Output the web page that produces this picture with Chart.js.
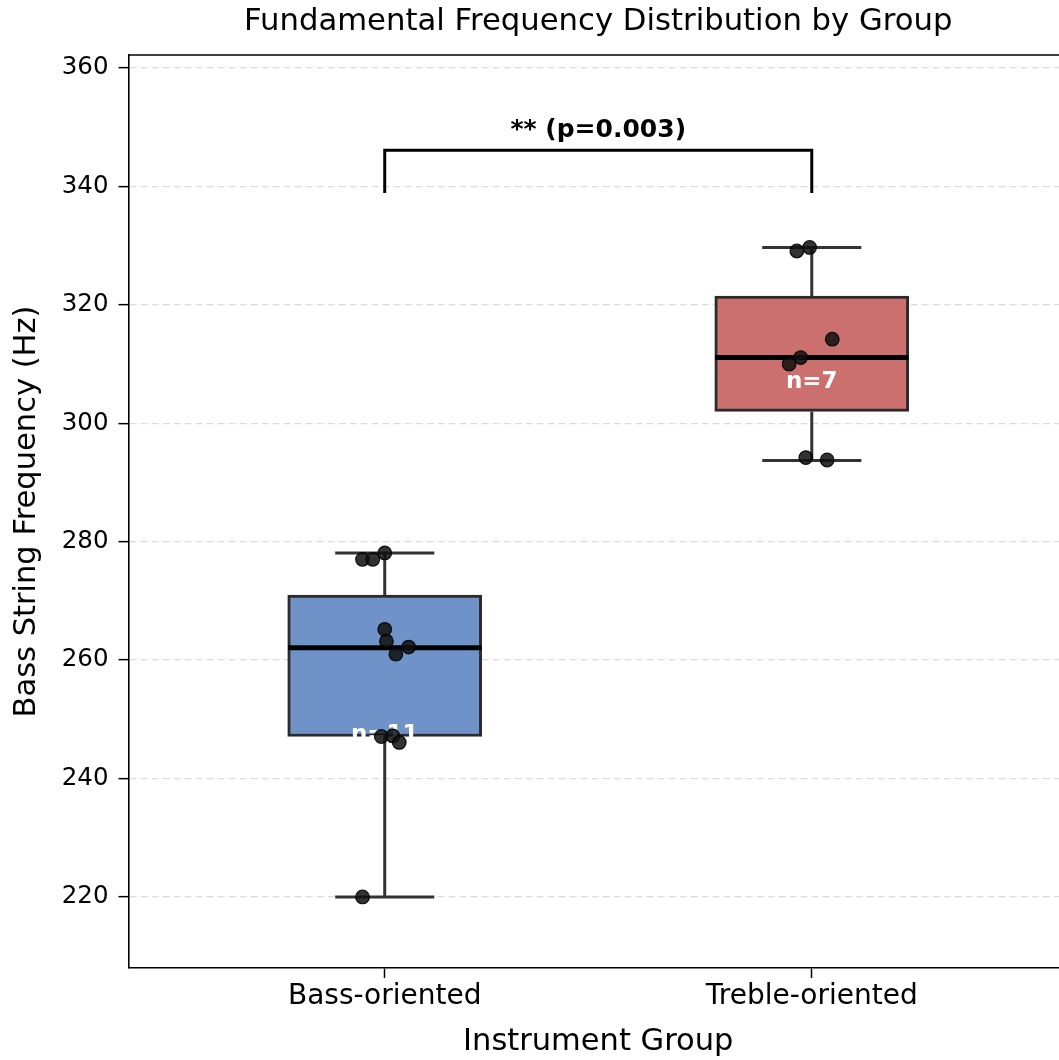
<!DOCTYPE html>
<html><head><meta charset="utf-8">
<script src="https://cdn.jsdelivr.net/npm/chart.js@4"></script>
<style>html,body{margin:0;padding:0;overflow:hidden;background:#fff}</style>
</head><body>
<canvas id="c" width="1076" height="1060" style="display:block"></canvas>
<script>
// ---- data ----
const categories = ['Bass-oriented', 'Treble-oriented'];
const bassValues  = [278.1, 277.0, 277.0, 265.2, 263.2, 262.2, 261.0, 247.1, 247.2, 246.1, 220.0];
const bassJitter  = [0.000, -0.052, -0.028, 0.000, 0.004, 0.056, 0.026, -0.008, 0.019, 0.034, -0.052];
const trebleValues = [329.7, 329.1, 314.2, 311.1, 310.0, 294.2, 293.8];
const trebleJitter = [-0.005, -0.035, 0.048, -0.026, -0.053, -0.014, 0.036];
const boxQ1     = [247.1, 302.0];
const boxMedian = [262.1, 311.1];
const boxQ3     = [271.0, 321.5];
const whiskerLow  = [220.0, 293.7];
const whiskerHigh = [278.1, 329.7];
const groupCounts = [11, 7];
const countLabelY = [247.3, 307.0];
const yTicks = [220, 240, 260, 280, 300, 320, 340, 360];
const sigBracket = [338.9, 346.1];
const sigLabel = '** (p=0.003)';
const sigLabelY = 348.3;

// ---- styles ----
const FONT = "'DejaVu Sans', 'Liberation Sans', sans-serif";
const boxColors = ['rgba(111,146,201,1)', 'rgba(204,112,111,1)'];
const edge = '#2b2b2b';
const BOX_HALF = 0.2265, CAP_HALF = 0.116;

const allValues = [bassValues, trebleValues];
const allJitter = [bassJitter, trebleJitter];

const datasets = [];
// points (on top)
const pts = [];
allValues.forEach((vals, g) => vals.forEach((v, i) => pts.push({x: g + allJitter[g][i], y: v})));
datasets.push({type: 'scatter', data: pts, order: 0, pointRadius: 6.8, pointHoverRadius: 6.8,
  backgroundColor: 'rgba(15,15,15,0.85)', borderColor: 'rgba(0,0,0,0.9)', borderWidth: 1.2});
// medians
categories.forEach((c, g) => {
  datasets.push({type: 'scatter', showLine: true, order: 1, pointRadius: 0, borderColor: '#000', borderWidth: 5,
    data: [{x: g - BOX_HALF, y: boxMedian[g]}, {x: g + BOX_HALF, y: boxMedian[g]}]});
});
// whiskers + caps
categories.forEach((c, g) => {
  const seg = (pts2) => datasets.push({type: 'scatter', showLine: true, order: 2, pointRadius: 0,
    borderColor: '#333', borderWidth: 3, borderCapStyle: 'butt', data: pts2});
  seg([{x: g, y: boxQ3[g]}, {x: g, y: whiskerHigh[g]}]);
  seg([{x: g, y: boxQ1[g]}, {x: g, y: whiskerLow[g]}]);
  seg([{x: g - CAP_HALF, y: whiskerHigh[g]}, {x: g + CAP_HALF, y: whiskerHigh[g]}]);
  seg([{x: g - CAP_HALF, y: whiskerLow[g]}, {x: g + CAP_HALF, y: whiskerLow[g]}]);
});
// significance bracket
datasets.push({type: 'scatter', showLine: true, order: 2, pointRadius: 0, borderColor: '#000', borderWidth: 3,
  data: [{x: 0, y: sigBracket[0]}, {x: 0, y: sigBracket[1]}, {x: 1, y: sigBracket[1]}, {x: 1, y: sigBracket[0]}]});
// boxes
datasets.push({type: 'bar', order: 3, barThickness: 194, borderSkipped: false, borderWidth: 3,
  borderColor: edge, backgroundColor: boxColors,
  data: categories.map((c, g) => ({x: g, y: [boxQ1[g], boxQ3[g]]}))});

const extras = {
  id: 'extras',
  afterDatasetDraw(chart, args) {
    if (args.meta.type !== 'bar') return;
    const {ctx, scales: {x, y}} = chart;
    ctx.save();
    // n labels (under the points)
    ctx.fillStyle = '#fff'; ctx.font = "bold 23px " + FONT; ctx.textAlign = 'center'; ctx.textBaseline = 'middle';
    groupCounts.forEach((n, g) => ctx.fillText('n=' + n, x.getPixelForValue(g), y.getPixelForValue(countLabelY[g])));
    ctx.restore();
  },
  afterDatasetsDraw(chart) {
    const {ctx, chartArea, scales: {x, y}} = chart;
    ctx.save();
    // top spine
    ctx.strokeStyle = '#000'; ctx.lineWidth = 1.6;
    ctx.beginPath(); ctx.moveTo(chartArea.left, chartArea.top); ctx.lineTo(chartArea.right, chartArea.top); ctx.stroke();
    // significance label
    ctx.fillStyle = '#000'; ctx.font = "bold 25px " + FONT; ctx.textAlign = 'center'; ctx.textBaseline = 'alphabetic';
    ctx.fillText(sigLabel, x.getPixelForValue(0.5), y.getPixelForValue(sigLabelY));
    ctx.restore();
  }
};

new Chart(document.getElementById('c'), {
  type: 'scatter',
  data: {datasets},
  plugins: [extras],
  options: {
    responsive: false, animation: false, devicePixelRatio: 1,
    layout: {padding: {left: 0, right: 6.5, top: 0, bottom: 0}},
    plugins: {
      legend: {display: false}, tooltip: {enabled: false}, title: {display: false}
    },
    scales: {
      x: {type: 'linear', min: -0.6, max: 1.6, offset: false,
        afterFit: s => { s.height = 92; },
        afterBuildTicks: s => { s.ticks = categories.map((c, g) => ({value: g})); },
        ticks: {color: '#000', font: {family: FONT, size: 28}, padding: 2, maxRotation: 0, autoSkip: false,
          callback: v => categories[v]},
        grid: {offset: false, drawOnChartArea: false, drawTicks: true, tickLength: 10, tickColor: '#000', tickWidth: 1.5},
        border: {display: true, color: '#000', width: 1.6},
        title: {display: true, text: 'Instrument Group', color: '#000', font: {family: FONT, size: 30.5, lineHeight: 1.2}, padding: {top: 0, bottom: 0}}
      },
      xTop: {type: 'linear', position: 'top', min: -0.6, max: 1.6, offset: false,
        afterFit: s => { s.height = 55; },
        ticks: {display: false},
        grid: {display: false, drawTicks: false},
        border: {display: false},
        title: {display: true, text: 'Fundamental Frequency Distribution by Group', color: '#000',
          font: {family: FONT, size: 30.7, weight: 'normal', lineHeight: 1.2}, padding: {top: 3.5, bottom: 0}}
      },
      y: {type: 'linear', min: 208, max: 362.2,
        afterFit: s => { s.width = 128.5; },
        afterBuildTicks: s => { s.ticks = yTicks.map(v => ({value: v})); },
        ticks: {color: '#000', font: {family: FONT, size: 24.5}, padding: 10},
        grid: {color: '#dcdcdc', lineWidth: 1.3, drawTicks: true, tickLength: 10, tickColor: '#000', tickWidth: 1.5, tickBorderDash: []},
        border: {display: true, color: '#000', width: 1.6, dash: [7, 4]},
        title: {display: true, text: 'Bass String Frequency (Hz)', color: '#000', font: {family: FONT, size: 30.5, lineHeight: 1.2}, padding: {top: 8.3, bottom: 0}}
      }
    }
  }
});
</script>
</body></html>
